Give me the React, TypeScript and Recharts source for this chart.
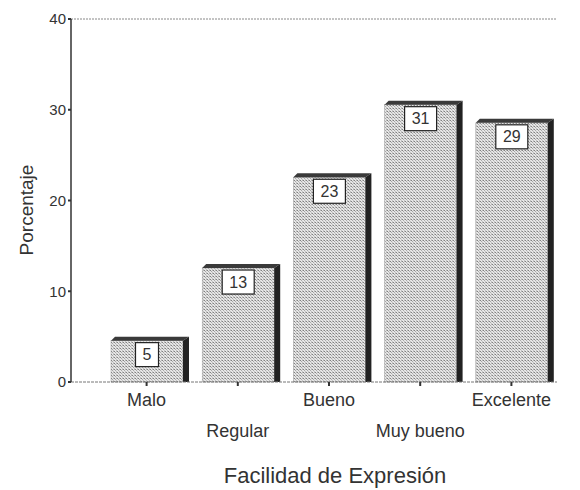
import React from "react";
import { Bar, BarChart, Label, ReferenceLine, XAxis, YAxis } from "recharts";

const categories = ["Malo", "Regular", "Bueno", "Muy bueno", "Excelente"];
const percents = [5, 13, 23, 31, 29];
const yTicks = [0, 10, 20, 30, 40];

const data = categories.map((name, i) => ({ name, value: percents[i] }));

const FONT = "'Liberation Sans', Arial, sans-serif";
const DEPTH = 6;

const Bar3D = (props: any) => {
  const { x, y, width, height, value } = props;
  const bottom = y + height;
  const top = y + 4;
  const label = String(value);
  const bw = label.length * 9 + 14;
  const bh = 24;
  const cx = x + width / 2;
  return (
    <g>
      <rect x={x} y={top} width={width} height={bottom - top} fill="url(#hatch)" stroke="#9a9a9a" strokeWidth={0.5} />
      <polygon
        points={`${x},${top} ${x + 4},${y} ${x + width + DEPTH},${y} ${x + width},${top}`}
        fill="#3a3a3a"
      />
      <polygon
        points={`${x + width},${top} ${x + width + DEPTH},${y} ${x + width + DEPTH},${bottom} ${x + width},${bottom}`}
        fill="#222"
      />
      <rect x={cx - bw / 2} y={top + 2} width={bw} height={bh} fill="#fff" stroke="#222" strokeWidth={1.2} />
      <text x={cx} y={top + 2 + bh / 2 + 5.5} textAnchor="middle" fontSize={16} fontFamily={FONT} fill="#333">
        {label}
      </text>
    </g>
  );
};

const StaggerTick = (props: any) => {
  const { x, y, payload, index } = props;
  const dy = index % 2 === 0 ? 18 : 49;
  return (
    <text x={x} y={y + dy} textAnchor="middle" fontSize={18} fontFamily={FONT} fill="#333">
      {payload.value}
    </text>
  );
};

export default function App() {
  return (
    <div style={{ position: "absolute", left: 0, top: 0, background: "#fff" }}>
      <BarChart
        width={580}
        height={490}
        data={data}
        margin={{ top: 19, right: 23, left: 0, bottom: 0 }}
        barSize={72}
      >
        <defs>
          <pattern id="hatch" width="3" height="3" patternUnits="userSpaceOnUse">
            <rect width="3" height="3" fill="#e6e6e6" />
            <rect x="0" y="0" width="1" height="1" fill="#808080" />
            <rect x="1" y="1" width="1" height="1" fill="#a8a8a8" />
            <rect x="2" y="2" width="1" height="1" fill="#c0c0c0" />
            <rect x="2" y="0" width="1" height="1" fill="#b8b8b8" />
          </pattern>
        </defs>
        <XAxis
          dataKey="name"
          height={108}
          padding={{ left: 30, right: 0 }}
          tick={<StaggerTick />}
          tickSize={4}
          tickLine={{ stroke: "#333", strokeWidth: 2 }}
          axisLine={{ stroke: "#777", strokeDasharray: "3 1" }}
          interval={0}
        >
          <Label
            content={({ viewBox }: any) => (
              <text
                x={335}
                y={viewBox.y + 101}
                textAnchor="middle"
                fontSize={22}
                fontFamily={FONT}
                fill="#333"
              >
                Facilidad de Expresión
              </text>
            )}
          />
        </XAxis>
        <YAxis
          width={71}
          domain={[0, 40]}
          ticks={yTicks}
          tickSize={3}
          tickLine={{ stroke: "#333", strokeWidth: 2 }}
          axisLine={{ stroke: "#333", strokeWidth: 1.5 }}
          tick={{ fontSize: 15, fontFamily: FONT, fill: "#333" }}
        >
          <Label
            content={() => (
              <text
                x={33}
                y={210}
                transform="rotate(-90, 33, 210)"
                textAnchor="middle"
                fontSize={19}
                fontFamily={FONT}
                fill="#333"
              >
                Porcentaje
              </text>
            )}
          />
        </YAxis>
        <ReferenceLine y={40} stroke="#888" strokeDasharray="2 1" />
        <Bar dataKey="value" shape={<Bar3D />} isAnimationActive={false} />
      </BarChart>
    </div>
  );
}
